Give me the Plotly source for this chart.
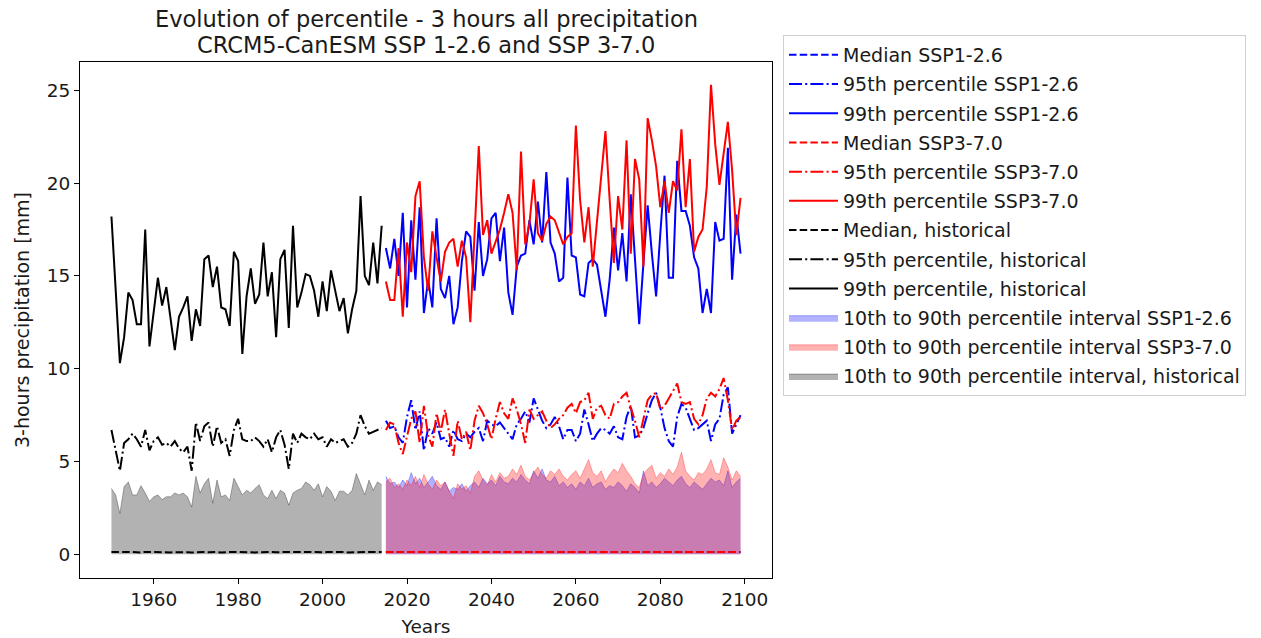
import plotly.graph_objects as go

years_hist = list(range(1950, 2015))
years_ssp = list(range(2015, 2100))

# Historical
p99_hist = [18.2, 14.5, 10.3, 11.7, 14.1, 13.7, 12.4, 12.4, 17.5, 11.2,
            13.0, 14.9, 13.4, 14.4, 12.7, 11.0, 12.8, 13.3, 13.9, 11.5,
            13.2, 12.3, 15.9, 16.1, 14.4, 15.5, 13.3, 13.2, 12.3, 16.3,
            15.8, 10.8, 13.9, 15.4, 13.5, 14.0, 16.8, 13.9, 15.2, 11.7,
            15.9, 16.4, 12.2, 17.7, 13.3, 14.1, 15.1, 15.0, 14.2, 12.8,
            14.7, 13.1, 15.3, 14.1, 13.1, 13.8, 11.9, 13.2, 14.2, 19.3,
            15.0, 14.5, 16.8, 14.6, 17.7]
p95_hist = [6.7, 5.6, 4.5, 6.0, 6.2, 6.5, 6.2, 5.8, 6.7, 5.6,
            6.1, 6.3, 5.9, 6.0, 5.8, 6.1, 5.7, 5.5, 5.8, 4.5,
            7.1, 6.1, 6.9, 7.1, 5.8, 6.9, 6.0, 6.2, 5.3, 6.7,
            7.3, 6.2, 6.1, 6.1, 6.3, 6.1, 5.8, 6.2, 5.5, 6.3,
            6.7, 5.9, 4.6, 6.5, 6.0, 6.5, 6.3, 6.2, 6.5, 6.2,
            6.3, 5.8, 6.2, 6.0, 6.1, 6.2, 5.8, 6.0, 6.5, 7.5,
            6.9, 6.5, 6.6, 6.7, 6.8]
p90_hist = [3.55, 3.2, 2.2, 3.65, 3.9, 3.2, 3.2, 3.7, 3.3, 2.85,
            3.1, 3.2, 2.95, 3.1, 3.1, 3.3, 3.2, 3.3, 3.1, 2.55,
            4.2, 3.3, 3.8, 4.1, 2.75, 4.0, 3.1, 3.2, 2.9, 4.1,
            3.65, 3.2, 3.45, 3.3, 3.55, 3.75, 3.2, 3.0, 3.45, 3.0,
            3.45, 3.3, 2.65, 3.3, 3.45, 3.55, 3.9, 3.75, 3.45, 3.8,
            3.1, 3.65, 3.4, 2.9, 3.4, 3.4, 3.2, 3.45, 4.35, 3.8,
            3.2, 4.0, 3.45, 3.9, 3.75]
med_hist = [0.12, 0.11, 0.10, 0.12, 0.13, 0.11, 0.12, 0.10, 0.13, 0.12,
            0.11, 0.12, 0.13, 0.12, 0.10, 0.11, 0.12, 0.13, 0.11, 0.10,
            0.12, 0.14, 0.12, 0.11, 0.13, 0.12, 0.10, 0.12, 0.11, 0.13,
            0.12, 0.11, 0.13, 0.12, 0.10, 0.11, 0.12, 0.13, 0.12, 0.11,
            0.12, 0.10, 0.11, 0.13, 0.12, 0.11, 0.12, 0.13, 0.12, 0.10,
            0.11, 0.12, 0.13, 0.12, 0.11, 0.12, 0.10, 0.11, 0.12, 0.13,
            0.12, 0.11, 0.13, 0.12, 0.12]

# SSP1-2.6
p99_ssp1 = [16.5, 15.4, 17.0, 15.0, 18.4, 13.3, 18.0, 14.8, 18.7, 13.0,
            14.8, 13.3, 18.1, 14.3, 13.8, 15.0, 12.4, 13.3, 15.8, 17.4,
            17.1, 14.2, 17.9, 15.0, 15.9, 18.1, 18.4, 15.8, 17.6, 14.1,
            12.9, 15.5, 16.1, 16.2, 18.0, 16.7, 19.0, 16.8, 20.6, 16.8,
            16.2, 14.7, 14.9, 20.3, 16.1, 16.0, 14.0, 13.9, 15.7, 15.9,
            15.6, 14.2, 12.8, 14.8, 17.6, 15.3, 17.3, 14.7, 19.4, 15.9,
            12.4, 15.7, 18.8, 16.2, 13.9, 17.3, 20.4, 14.9, 14.9, 21.2,
            18.5, 18.5, 17.7, 16.0, 15.4, 13.0, 14.3, 13.0, 17.9, 16.9,
            17.0, 21.9, 14.8, 18.3, 16.2]
p95_ssp1 = [7.2, 6.8, 6.9, 6.3, 6.0, 7.4, 8.3, 6.7, 7.7, 5.6,
            6.8, 6.5, 7.1, 6.2, 6.3, 5.8, 6.7, 6.2, 6.1, 6.5,
            6.3, 6.6, 6.8, 6.1, 7.2, 7.0, 6.9, 7.1, 6.8, 6.5,
            6.2, 7.0, 7.3, 7.7, 7.1, 8.4, 7.8, 7.2, 6.8, 7.0,
            7.4, 6.9, 6.2, 6.7, 6.7, 6.1, 6.5, 7.8, 7.0, 6.1,
            6.5, 6.8, 6.7, 6.5, 6.9, 6.3, 6.2, 7.4, 8.0, 6.3,
            6.4, 6.8, 7.6, 8.3, 8.7, 7.9, 6.8, 6.1, 5.8, 7.4,
            8.1, 7.9, 7.3, 6.7, 6.8, 7.0, 7.2, 6.1, 7.0, 7.3,
            8.6, 9.0, 6.5, 7.0, 7.5]
p90_ssp1 = [4.2, 3.8, 3.9, 3.6, 4.0, 3.7, 4.4, 3.8, 4.1, 3.6,
            3.9, 4.2, 3.7, 3.5, 3.9, 3.4, 3.6, 3.5, 3.8, 3.4,
            3.7, 3.9, 3.6, 4.1, 3.8, 4.0, 3.7, 4.2, 3.9, 3.8,
            4.1, 3.9, 4.3, 4.0, 3.8, 4.5, 4.1, 4.6, 4.0, 3.9,
            4.2, 3.7, 3.9, 3.6, 3.8, 3.5, 3.9, 3.7, 4.1, 3.6,
            3.8, 3.9, 3.5, 3.7, 3.6, 3.9, 3.7, 3.4, 3.8, 3.6,
            3.3, 4.5, 3.7, 3.9, 3.6, 3.8, 4.1, 3.9, 3.7, 4.0,
            4.2, 3.8, 3.6, 3.9, 3.7, 3.5, 3.8, 4.1, 3.9, 4.0,
            3.7, 4.5, 3.6, 3.9, 4.1]
med_ssp1 = [0.12, 0.13, 0.11, 0.12, 0.13, 0.12, 0.11, 0.12, 0.13, 0.12,
            0.11, 0.12, 0.12, 0.13, 0.11, 0.12, 0.12, 0.13, 0.12, 0.11,
            0.12, 0.13, 0.12, 0.11, 0.12, 0.13, 0.12, 0.12, 0.11, 0.12,
            0.13, 0.12, 0.11, 0.12, 0.13, 0.12, 0.12, 0.11, 0.12, 0.13,
            0.12, 0.11, 0.12, 0.13, 0.12, 0.12, 0.11, 0.12, 0.13, 0.12,
            0.11, 0.12, 0.12, 0.13, 0.12, 0.11, 0.12, 0.13, 0.12, 0.12,
            0.11, 0.12, 0.13, 0.12, 0.11, 0.12, 0.12, 0.13, 0.12, 0.11,
            0.12, 0.13, 0.12, 0.12, 0.11, 0.12, 0.13, 0.12, 0.11, 0.12,
            0.12, 0.13, 0.12, 0.11, 0.12]

# SSP3-7.0
p99_ssp3 = [14.7, 13.7, 13.7, 16.5, 12.8, 16.8, 15.2, 19.3, 20.1, 16.0,
            14.2, 17.4, 16.0, 14.7, 16.3, 16.8, 17.0, 15.5, 16.9, 16.0,
            12.5, 17.3, 22.0, 17.2, 18.0, 16.2, 16.8, 17.5, 18.4, 19.4,
            18.4, 15.3, 21.7, 16.7, 17.8, 20.2, 17.3, 16.9, 17.8, 18.2,
            18.0, 17.4, 16.7, 17.1, 17.3, 23.1, 19.1, 16.8, 18.7, 15.5,
            18.0, 20.3, 22.8, 19.1, 15.7, 19.3, 17.5, 22.3, 16.2, 21.3,
            20.2, 15.5, 23.5, 22.3, 20.9, 18.7, 20.1, 18.4, 20.1, 19.6,
            22.9, 18.7, 21.3, 16.3, 17.1, 17.5, 19.8, 25.3, 22.1, 19.9,
            21.5, 23.3, 20.7, 17.2, 19.2]
p95_ssp3 = [6.7, 7.1, 7.0, 6.0, 5.4, 6.3, 7.3, 7.7, 6.0, 8.0,
            6.4, 5.8, 7.6, 6.6, 7.8, 6.5, 5.3, 7.2, 6.2, 6.6,
            5.6, 7.2, 8.0, 7.6, 7.0, 6.2, 7.3, 8.2, 7.6, 7.3,
            8.4, 7.8, 7.0, 6.0, 7.8, 7.3, 7.5, 7.7, 7.2, 6.8,
            7.0, 7.3, 7.5, 7.9, 8.1, 7.6, 8.2, 8.3, 8.7, 7.3,
            7.9, 8.0, 7.5, 7.3, 8.1, 8.2, 8.5, 8.7, 7.9, 7.2,
            6.3, 7.4, 8.3, 8.6, 8.7, 7.8, 8.0, 8.4, 8.8, 9.2,
            8.2, 8.1, 8.2, 7.3, 7.0, 7.5, 8.4, 8.7, 8.5, 8.9,
            9.5, 8.3, 6.7, 7.2, 7.4]
p90_ssp3 = [3.9, 4.1, 3.6, 3.8, 3.5, 4.0, 3.7, 4.2, 3.6, 4.3,
            3.8, 3.5, 4.0, 3.7, 3.9, 3.4, 3.0, 3.8, 3.5, 3.7,
            3.3, 4.2, 4.5, 4.0, 3.7, 4.3, 3.9, 4.4, 4.1, 4.2,
            4.6, 4.3, 4.8, 4.2, 4.0, 4.4, 4.7, 4.3, 4.1, 4.5,
            4.3, 4.6, 4.2, 4.0, 4.3, 4.5, 4.1, 4.6, 5.1, 4.4,
            4.2, 4.5, 3.9, 4.3, 4.6, 4.4, 4.9, 4.5, 4.2, 3.8,
            3.6, 4.3, 4.6, 4.8, 4.1, 4.4, 4.2, 4.6, 4.3, 4.7,
            5.5, 4.5, 4.2, 4.0, 4.4, 4.3, 4.6, 5.1, 4.4, 4.3,
            5.2, 4.7, 4.0, 4.5, 4.2]
med_ssp3 = [0.13, 0.12, 0.12, 0.11, 0.12, 0.13, 0.12, 0.12, 0.11, 0.12,
            0.13, 0.12, 0.11, 0.12, 0.12, 0.13, 0.12, 0.11, 0.12, 0.13,
            0.12, 0.12, 0.11, 0.12, 0.13, 0.12, 0.12, 0.11, 0.12, 0.13,
            0.12, 0.11, 0.12, 0.12, 0.13, 0.12, 0.11, 0.12, 0.12, 0.13,
            0.12, 0.12, 0.11, 0.12, 0.13, 0.12, 0.12, 0.11, 0.12, 0.13,
            0.12, 0.11, 0.12, 0.12, 0.13, 0.12, 0.12, 0.11, 0.12, 0.13,
            0.12, 0.12, 0.11, 0.12, 0.13, 0.12, 0.11, 0.12, 0.12, 0.13,
            0.12, 0.12, 0.11, 0.12, 0.13, 0.12, 0.12, 0.11, 0.12, 0.13,
            0.12, 0.11, 0.12, 0.12, 0.13]

x_ticks = [1960, 1980, 2000, 2020, 2040, 2060, 2080, 2100]
y_ticks = [0, 5, 10, 15, 20, 25]
title_lines = ["Evolution of percentile - 3 hours all precipitation",
               "CRCM5-CanESM SSP 1-2.6 and SSP 3-7.0"]

FONT = "DejaVu Sans"
TXT = "#1a1a1a"
LW = 2
DASH = "7.5px,3.2px"
DASHDOT = "13px,3.2px,2px,3.2px"

fig = go.Figure()

# fills (drawn first, below lines)
fills = [
    (years_ssp, p90_ssp1, "rgba(0,0,255,0.3)", "10th to 90th percentile interval SSP1-2.6", 10),
    (years_ssp, p90_ssp3, "rgba(255,0,0,0.3)", "10th to 90th percentile interval SSP3-7.0", 11),
    (years_hist, p90_hist, "rgba(0,0,0,0.3)", "10th to 90th percentile interval, historical", 12),
]
for xs, ys, col, name, rank in fills:
    fig.add_trace(go.Scatter(x=xs, y=ys, mode="lines", fill="tozeroy", fillcolor=col,
                             line=dict(color=col, width=1), name=name,
                             legendgroup=name, legendrank=rank))

lines = [
    (years_ssp, med_ssp1, "#0000ff", DASH, "Median SSP1-2.6", 1),
    (years_ssp, p95_ssp1, "#0000ff", DASHDOT, "95th percentile SSP1-2.6", 2),
    (years_ssp, p99_ssp1, "#0000ff", "solid", "99th percentile SSP1-2.6", 3),
    (years_ssp, med_ssp3, "#ff0000", DASH, "Median SSP3-7.0", 4),
    (years_ssp, p95_ssp3, "#ff0000", DASHDOT, "95th percentile SSP3-7.0", 5),
    (years_ssp, p99_ssp3, "#ff0000", "solid", "99th percentile SSP3-7.0", 6),
    (years_hist, med_hist, "#000000", DASH, "Median, historical", 7),
    (years_hist, p95_hist, "#000000", DASHDOT, "95th percentile, historical", 8),
    (years_hist, p99_hist, "#000000", "solid", "99th percentile, historical", 9),
]
for xs, ys, col, dash, name, rank in lines:
    fig.add_trace(go.Scatter(x=xs, y=ys, mode="lines",
                             line=dict(color=col, width=LW, dash=dash),
                             name=name, legendgroup=name, legendrank=rank))

axis_common = dict(showline=True, mirror=True, linecolor="black", linewidth=1.1,
                   ticks="outside", ticklen=5, tickwidth=1.1, tickcolor="black",
                   showgrid=False, zeroline=False, automargin=False,
                   tickfont=dict(family=FONT, size=18.5, color=TXT))

fig.update_layout(
    width=1261, height=638,
    margin=dict(l=80, r=489, t=62, b=60, autoexpand=False),
    plot_bgcolor="white", paper_bgcolor="white",
    font=dict(family=FONT, size=18.5, color=TXT),
    xaxis=dict(range=[1942.55, 2106.45], tickvals=x_ticks,
               title=dict(text="Years", standoff=10, font=dict(family=FONT, size=18.5, color=TXT)),
               **axis_common),
    yaxis=dict(range=[-1.277, 26.525], tickvals=y_ticks,
               title=dict(text="3-hours precipitation [mm]", standoff=12,
                          font=dict(family=FONT, size=19, color=TXT)),
               **axis_common),
    showlegend=True,
    legend=dict(x=(783 - 80) / 692, y=1 + (62 - 35) / 516, xanchor="left", yanchor="top",
                bgcolor="white", bordercolor="#d0d0d0", borderwidth=1,
                font=dict(family=FONT, size=19, color=TXT),
                traceorder="grouped", tracegroupgap=1.5, itemwidth=49,
                maxheight=600),
    annotations=[
        dict(text=title_lines[0], x=0.5, xref="paper", xanchor="center",
             y=(578 - 19) / 516, yref="paper", yanchor="middle", showarrow=False,
             font=dict(family=FONT, size=22.5, color=TXT)),
        dict(text=title_lines[1], x=0.5, xref="paper", xanchor="center",
             y=(578 - 45) / 516, yref="paper", yanchor="middle", showarrow=False,
             font=dict(family=FONT, size=22.5, color=TXT)),
    ],
)

fig.write_html("out.html")
